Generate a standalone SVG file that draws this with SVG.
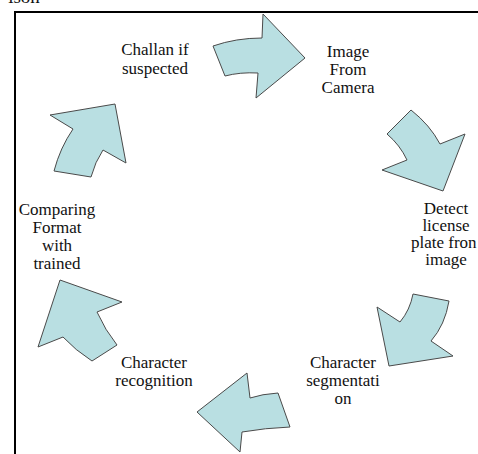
<svg xmlns="http://www.w3.org/2000/svg" width="478" height="454" viewBox="0 0 478 454">
<style>
.arr{fill:#b9dfe2;stroke:#4a4a4a;stroke-width:1;stroke-linejoin:miter}
text{font-family:"Liberation Serif","Times New Roman",serif;font-size:17px;fill:#111;text-anchor:middle}
</style>
<rect width="478" height="454" fill="#fff"/>
<text x="24" y="3" style="font-size:19px">ison</text>
<rect x="15" y="12" width="480" height="460" fill="none" stroke="#000" stroke-width="2"/>
<g id="connectors">
<path class="arr" d="M213,46 Q236,38 262,38 L263,14 L305,58 L256,98 L258,73 Q240,72 225,76 Z"/>
<path class="arr" d="M411,110 Q430,125 440,144 L465,134 L443,191 L382,170 L407,160 Q400,145 387,134 Z"/>
<path class="arr" d="M413,294 L449,301 Q445,325 431,341 L453,356 L389,366 L377,307 L400,322 Q410,310 413,294 Z"/>
<path class="arr" d="M247,373 L197,412 L240,452 L242,432 Q265,428 290,427 L278,393 Q262,394 250,398 Z"/>
<path class="arr" d="M60,280 L122,302 L97,312 Q105,330 117,345 L92,361 Q75,350 63,337 L38,347 Z"/>
<path class="arr" d="M50,115 L115,104 L126,163 L103,150 Q95,162 91,177 L54,171 Q60,148 73,129 Z"/>
</g>
<g id="n1"><text x="155" y="55">Challan if</text><text x="155" y="74">suspected</text></g>
<g id="n2"><text x="348" y="57">Image</text><text x="348" y="75">From</text><text x="348" y="93">Camera</text></g>
<g id="n3"><text x="446" y="214">Detect</text><text x="446" y="231">license</text><text x="411" y="248" style="text-anchor:start">plate fron</text><text x="446" y="265">image</text></g>
<g id="n4"><text x="343" y="368">Character</text><text x="343" y="386">segmentati</text><text x="343" y="404">on</text></g>
<g id="n5"><text x="154" y="368">Character</text><text x="154" y="386">recognition</text></g>
<g id="n6"><text x="57" y="215">Comparing</text><text x="57" y="233">Format</text><text x="57" y="251">with</text><text x="57" y="269">trained</text></g>
</svg>
